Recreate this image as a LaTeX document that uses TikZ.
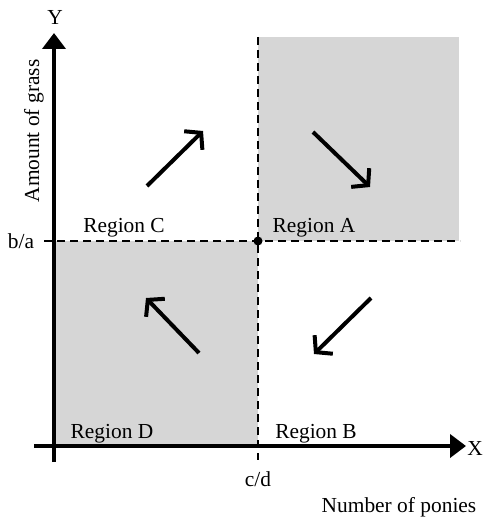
\documentclass[tikz,border=0pt]{standalone}
\usepackage{fontspec}
\setmainfont{Liberation Serif}
\usetikzlibrary{arrows.meta}
\begin{document}
\begin{tikzpicture}[x=1pt,y=-1pt,
  lbl/.style={font=\fontsize{21.4}{23}\selectfont, inner sep=0pt},
  axis/.style={line width=4pt, -{Triangle[length=16pt,width=23pt]}},
  flow/.style={line width=4pt, -{Straight Barb[length=11pt,width=26pt,line width=4pt]}},
  guide/.style={line width=2.2pt, dash pattern=on 8pt off 5pt},
  shade/.style={fill=black!16, draw=none}]
\useasboundingbox (0,0) rectangle (483,518);
\fill[white] (0,0) rectangle (483,518);
% shaded regions
\path[shade] (258,37) rectangle (459,241);
\path[shade] (54,241) rectangle (258,446);
% guides
\coordinate (vtop) at (258,37);
\coordinate (vbot) at (258,460);
\coordinate (hl) at (44,241);
\coordinate (hr) at (460,241);
\draw[guide] (vtop) -- (vbot);
\draw[guide] (hl) -- (hr);
\node[circle, fill=black, inner sep=0pt, minimum size=9pt] (eq) at (258,241) {};
% axes
\coordinate (o1) at (54,462);
\coordinate (ytip) at (54,33);
\coordinate (o2) at (34,446);
\coordinate (xtip) at (466,446);
\draw[axis] (o1) -- (ytip);
\draw[axis] (o2) -- (xtip);
% labels
\node[lbl] (Y) at (55,17) {Y};
\node[lbl] (X) at (475,448) {X};
\node[lbl, rotate=90] (ylab) at (34,131) {Amount of grass};
\node[lbl] (xlab) at (399,507) {Number of ponies};
\node[lbl] (ba) at (21,241) {b/a};
\node[lbl] (cd) at (258,479) {c/d};
\node[lbl] (rC) at (124,228) {Region C};
\node[lbl] (rA) at (314,228) {Region A};
\node[lbl] (rD) at (112,434) {Region D};
\node[lbl] (rB) at (316,434) {Region B};
% flow arrows
\coordinate (c1) at (147,186); \coordinate (c2) at (203,131);
\coordinate (a1) at (313,132); \coordinate (a2) at (370,187);
\coordinate (d1) at (199,353); \coordinate (d2) at (146,298);
\coordinate (b1) at (371,298); \coordinate (b2) at (314,354);
\draw[flow] (c1) -- (c2);
\draw[flow] (a1) -- (a2);
\draw[flow] (d1) -- (d2);
\draw[flow] (b1) -- (b2);
\end{tikzpicture}
\end{document}
